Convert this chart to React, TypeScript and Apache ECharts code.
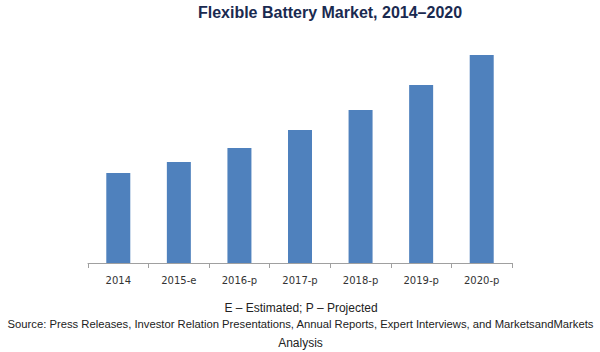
import React, { useEffect, useRef } from "react";
import * as echarts from "echarts";

const categories = ["2014", "2015-e", "2016-p", "2017-p", "2018-p", "2019-p", "2020-p"];
const marketValues = [90, 101, 115, 133, 153, 178, 208];
const titleText = "Flexible Battery Market, 2014–2020";
const noteText = "E – Estimated; P – Projected";
const sourceLine1 = "Source: Press Releases, Investor Relation Presentations, Annual Reports, Expert Interviews, and MarketsandMarkets";
const sourceLine2 = "Analysis";

export default function App() {
  const ref = useRef<HTMLDivElement>(null);
  useEffect(() => {
    if (!ref.current) return;
    const chart = echarts.init(ref.current, null, { renderer: "svg" });
    chart.setOption({
      animation: false,
      backgroundColor: "#ffffff",
      grid: { left: 88, right: 88, top: 13, bottom: 89, containLabel: false },
      xAxis: {
        type: "category",
        data: categories,
        axisLine: { show: true, lineStyle: { color: "#a0a0a0", width: 1 } },
        axisTick: { show: true, alignWithLabel: false, length: 5, lineStyle: { color: "#a0a0a0" } },
        axisLabel: {
          color: "#333333",
          fontFamily: "DejaVu Sans",
          fontSize: 10,
          margin: 12,
        },
      },
      yAxis: {
        type: "value",
        min: 0,
        max: 250,
        show: false,
        splitLine: { show: false },
      },
      series: [
        {
          type: "bar",
          data: marketValues,
          barWidth: 24,
          itemStyle: { color: "#4f81bd" },
        },
      ],
      graphic: [
        {
          type: "text",
          x: 330,
          y: 12,
          style: {
            text: titleText,
            fill: "#1a2a50",
            font: "bold 16px 'Liberation Sans'",
            textAlign: "center",
            textVerticalAlign: "middle",
          },
        },
        {
          type: "text",
          x: 301,
          y: 308,
          style: {
            text: noteText,
            fill: "#222222",
            font: "12px 'Liberation Sans'",
            textAlign: "center",
            textVerticalAlign: "middle",
          },
        },
        {
          type: "text",
          x: 300.5,
          y: 324,
          style: {
            text: sourceLine1,
            fill: "#222222",
            font: "11.25px 'Liberation Sans'",
            textAlign: "center",
            textVerticalAlign: "middle",
          },
        },
        {
          type: "text",
          x: 300.5,
          y: 343,
          style: {
            text: sourceLine2,
            fill: "#222222",
            font: "12px 'Liberation Sans'",
            textAlign: "center",
            textVerticalAlign: "middle",
          },
        },
      ],
    });
    return () => chart.dispose();
  }, []);
  return (
    <div
      ref={ref}
      style={{ position: "absolute", left: 0, top: 0, width: 600, height: 352 }}
    />
  );
}
